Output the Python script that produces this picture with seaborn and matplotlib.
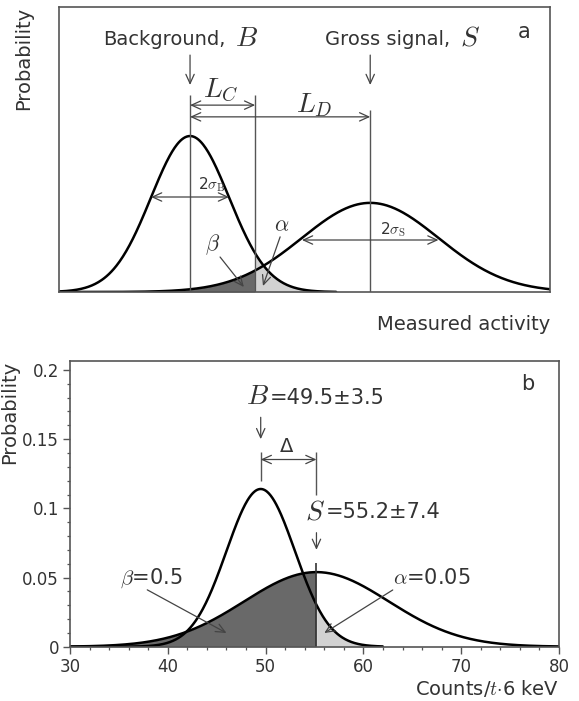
import numpy as np
import pandas as pd
import seaborn as sns
import matplotlib.pyplot as plt
from matplotlib.ticker import MultipleLocator, FixedFormatter

# Panel a: schematic, background sigma taken as unit
a_bkg_mean, a_bkg_sigma = 0.0, 1.0
a_sig_mean, a_sig_sigma = 4.62, 1.75
a_crit = 1.67          # L_C
a_xlim = (-3.36, 9.23)
a_ylim = (0, 0.729)

# Panel b: measured spectrum
b_bkg_mean, b_bkg_sigma = 49.5, 3.5
b_sig_mean, b_sig_sigma = 55.2, 7.4
b_xlim = (30, 80)
b_ylim = (0, 0.2065)
b_xticks = [30, 40, 50, 60, 70, 80]
b_yticks = [0, 0.05, 0.1, 0.15, 0.2]
b_yticklabels = ['0', '0.05', '0.1', '0.15', '0.2']

sns.set_theme(style='white')
plt.rcParams['font.family'] = ['DejaVu Sans']
plt.rcParams['mathtext.fontset'] = 'cm'

TXT = '#333333'
GRID = '#555555'
DARK = '#696969'
LIGHT = '#d2d2d2'


def gauss(x, mu, s):
    return np.exp(-0.5 * ((x - mu) / s) ** 2) / (s * np.sqrt(2 * np.pi))


def arrow(ax, p0, p1, style='->'):
    ax.annotate('', xy=p1, xytext=p0,
                arrowprops=dict(arrowstyle=style + ',head_length=0.55,head_width=0.25',
                                color='#444444', lw=0.9, shrinkA=0, shrinkB=0))


def txt(ax, x, y, s, size, ha='center'):
    ax.text(x, y, s, fontsize=size, color=TXT, ha=ha, va='center')


fig = plt.figure(figsize=(5.79, 7.01), dpi=100)
ax_a = fig.add_axes([59 / 579, (701 - 292) / 701, 491 / 579, 285 / 701])
ax_b = fig.add_axes([70 / 579, (701 - 646.7) / 701, 489 / 579, 285.7 / 701])

# ---------------- panel a ----------------
xa = np.linspace(a_xlim[0], a_xlim[1], 600)
df_a = pd.DataFrame({'x': xa,
                     'bkg': gauss(xa, a_bkg_mean, a_bkg_sigma),
                     'sig': gauss(xa, a_sig_mean, a_sig_sigma)})
left = df_a[df_a['x'] <= a_crit]
right = df_a[df_a['x'] >= a_crit]
ax_a.fill_between(left['x'], left['sig'], color=DARK, lw=0)
ax_a.fill_between(right['x'], right['bkg'], color=LIGHT, lw=0)
bk = df_a[df_a['x'] <= a_bkg_mean + 3.75 * a_bkg_sigma]
sns.lineplot(data=bk, x='x', y='bkg', color='black', lw=1.8, ax=ax_a)
sns.lineplot(data=df_a, x='x', y='sig', color='black', lw=1.8, ax=ax_a)

ax_a.vlines([a_bkg_mean, a_crit], 0, 0.504, color=GRID, lw=1)
ax_a.vlines(a_sig_mean, 0, 0.4655, color=GRID, lw=1)
arrow(ax_a, (a_bkg_mean, 0.606), (a_bkg_mean, 0.5295))
arrow(ax_a, (a_sig_mean, 0.606), (a_sig_mean, 0.5295))
arrow(ax_a, (a_bkg_mean, 0.478), (a_crit, 0.478), '<->')
arrow(ax_a, (a_bkg_mean, 0.448), (a_sig_mean, 0.448), '<->')
arrow(ax_a, (a_bkg_mean - a_bkg_sigma, 0.243), (a_bkg_mean + a_bkg_sigma, 0.243), '<->')
arrow(ax_a, (a_sig_mean - a_sig_sigma, 0.133), (a_sig_mean + a_sig_sigma, 0.133), '<->')
arrow(ax_a, (0.77, 0.0895), (1.38, 0.0128))
arrow(ax_a, (2.31, 0.141), (1.87, 0.0153))

txt(ax_a, 0.90, 0.645, 'Background,', 14, ha='right')
txt(ax_a, 1.46, 0.650, r'$B$', 20)
txt(ax_a, 6.67, 0.645, 'Gross signal,', 14, ha='right')
txt(ax_a, 7.17, 0.650, r'$S$', 20)
txt(ax_a, 8.56, 0.665, 'a', 15)
txt(ax_a, 0.80, 0.517, r'$L_C$', 20)
txt(ax_a, 3.18, 0.478, r'$L_D$', 20)
txt(ax_a, 0.56, 0.274, r'2$\sigma_{\rm B}$', 11)
txt(ax_a, 5.2, 0.159, r'2$\sigma_{\rm S}$', 11)
txt(ax_a, 0.59, 0.120, r'$\beta$', 16)
txt(ax_a, 2.36, 0.171, r'$\alpha$', 16)

ax_a.set_xlim(a_xlim)
ax_a.set_ylim(a_ylim)
ax_a.set_xticks([])
ax_a.set_yticks([])
ax_a.set_xlabel('Measured activity', loc='right', fontsize=14, color=TXT)
ax_a.xaxis.set_label_coords(1.0, -0.081)
ax_a.set_ylabel('Probability', loc='top', fontsize=14, color=TXT)
ax_a.yaxis.set_label_coords(-0.053, 1.0)

# ---------------- panel b ----------------
xb = np.linspace(b_xlim[0], b_xlim[1], 800)
df_b = pd.DataFrame({'x': xb,
                     'bkg': gauss(xb, b_bkg_mean, b_bkg_sigma),
                     'sig': gauss(xb, b_sig_mean, b_sig_sigma)})
left = df_b[df_b['x'] <= b_sig_mean]
right = df_b[df_b['x'] >= b_sig_mean]
ax_b.fill_between(left['x'], left['sig'], color=DARK, lw=0)
ax_b.fill_between(right['x'], right['bkg'], color=LIGHT, lw=0)
bk = df_b[df_b['x'] <= 62]
sns.lineplot(data=bk, x='x', y='bkg', color='black', lw=1.8, ax=ax_b)
sns.lineplot(data=df_b, x='x', y='sig', color='black', lw=1.8, ax=ax_b)

ax_b.vlines(b_bkg_mean, 0.1197, 0.1404, color=GRID, lw=1)
ax_b.vlines(b_sig_mean, 0.110, 0.1404, color=GRID, lw=1)
ax_b.vlines(b_sig_mean, 0, 0.0607, color='#333333', lw=1.2)
arrow(ax_b, (b_bkg_mean, 0.1658), (b_bkg_mean, 0.150))
arrow(ax_b, (b_sig_mean, 0.0824), (b_sig_mean, 0.070))
arrow(ax_b, (b_bkg_mean, 0.1353), (b_sig_mean, 0.1353), '<->')
arrow(ax_b, (37.9, 0.0411), (46.0, 0.0099))
arrow(ax_b, (63.0, 0.041), (56.0, 0.0099))

txt(ax_b, 49.2, 0.181, r'$B$', 20)
txt(ax_b, 50.4, 0.180, '=49.5±3.5', 15, ha='left')
txt(ax_b, 55.1, 0.098, r'$S$', 20)
txt(ax_b, 56.2, 0.097, '=55.2±7.4', 15, ha='left')
txt(ax_b, 52.1, 0.145, 'Δ', 14)
txt(ax_b, 76.8, 0.190, 'b', 15)
txt(ax_b, 38.3, 0.0498, r'$\beta$=0.5', 15)
txt(ax_b, 67.0, 0.0498, r'$\alpha$=0.05', 15)

ax_b.set_xlim(b_xlim)
ax_b.set_ylim(b_ylim)
ax_b.set_xticks(b_xticks)
ax_b.set_yticks(b_yticks)
ax_b.yaxis.set_major_formatter(FixedFormatter(b_yticklabels))
ax_b.xaxis.set_minor_locator(MultipleLocator(2))
ax_b.yaxis.set_minor_locator(MultipleLocator(0.01))
ax_b.tick_params(which='major', length=5, width=1, color=GRID, direction='out',
                 labelsize=12, labelcolor=TXT, pad=3, bottom=True, left=True)
ax_b.tick_params(which='minor', length=2.5, width=0.9, color=GRID, direction='out',
                 bottom=True, left=True)
ax_b.set_xlabel(r'Counts/$t$$\cdot$6 keV', loc='right', fontsize=14, color=TXT)
ax_b.xaxis.set_label_coords(1.0, -0.108)
ax_b.set_ylabel('Probability', loc='top', fontsize=14, color=TXT)
ax_b.yaxis.set_label_coords(-0.104, 1.0)

for ax in (ax_a, ax_b):
    for sp in ax.spines.values():
        sp.set_color(GRID)
        sp.set_linewidth(1.2)

fig.savefig('out.png', dpi=100)
